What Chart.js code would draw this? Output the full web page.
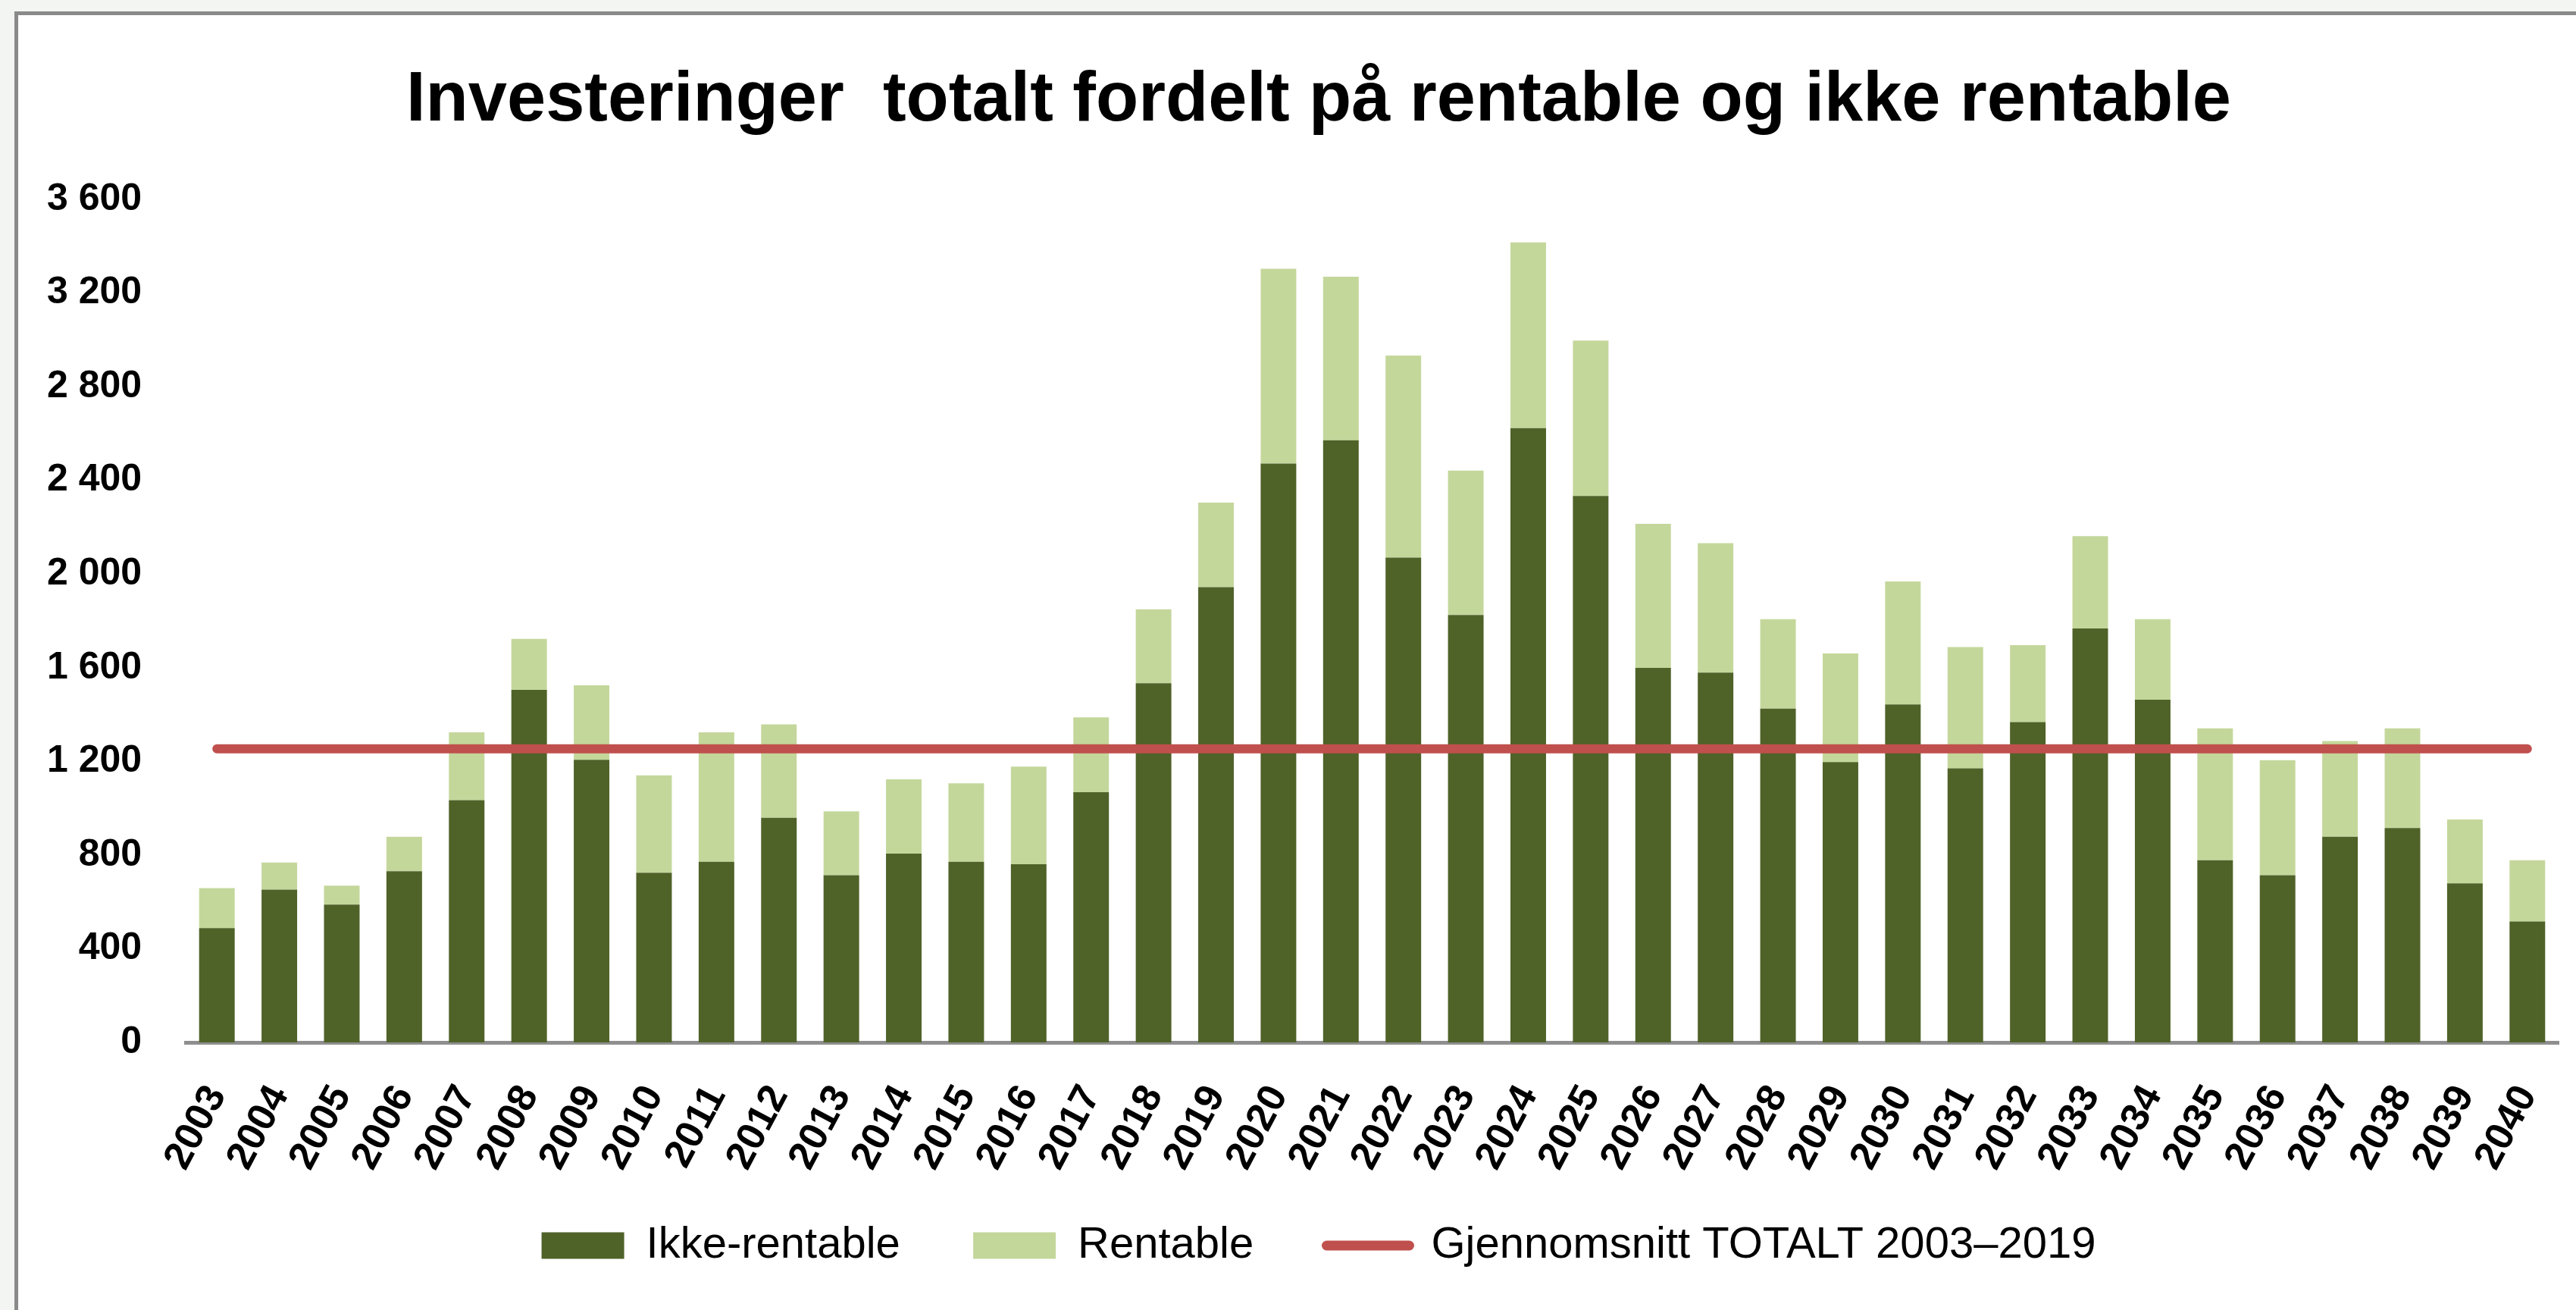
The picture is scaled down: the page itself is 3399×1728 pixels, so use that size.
<!DOCTYPE html>
<html lang="no">
<head>
<meta charset="utf-8">
<title>Investeringer totalt fordelt på rentable og ikke rentable</title>
<script src="https://cdn.jsdelivr.net/npm/chart.js@4.4.1/dist/chart.umd.min.js"></script>
<style>
  html, body { margin: 0; padding: 0; background: #f3f5f2; overflow: hidden; }
  #frame {
    position: absolute; left: 19px; top: 15px;
    width: 3375px; height: 1708px;
    border-left: 5px solid #8a8a8a; border-top: 5px solid #8a8a8a;
    background: #ffffff;
  }
  #wrap { position: relative; width: 3375px; height: 1708px; }
</style>
</head>
<body>
<div id="frame"><div id="wrap"><canvas id="chart"></canvas></div></div>
<script>
  // Years on the x axis
  const years = ['2003', '2004', '2005', '2006', '2007', '2008', '2009', '2010', '2011', '2012',
                 '2013', '2014', '2015', '2016', '2017', '2018', '2019', '2020', '2021', '2022',
                 '2023', '2024', '2025', '2026', '2027', '2028', '2029', '2030', '2031', '2032',
                 '2033', '2034', '2035', '2036', '2037', '2038', '2039', '2040'];

  // Ikke-rentable investeringer (bottom of the stack)
  const ikkeRentable = [488, 652, 588, 731, 1034, 1505, 1207, 724, 771, 959,
                        714, 806, 771, 761, 1068, 1534, 1944, 2472, 2571, 2070,
                        1825, 2623, 2333, 1599, 1579, 1425, 1197, 1443, 1170, 1368,
                        1768, 1463, 778, 714, 878, 915, 679, 516];

  // Rentable investeringer (stacked on top)
  const rentable = [171, 116, 81, 147, 290, 218, 318, 416, 553, 399,
                    273, 317, 335, 417, 320, 315, 361, 832, 699, 863,
                    617, 793, 664, 615, 553, 382, 464, 525, 518, 328,
                    394, 344, 563, 491, 409, 426, 273, 262];

  // Gjennomsnitt totalt 2003-2019, drawn across the whole period
  const snittTotalt = 1254;

  // Y axis ticks
  const yTicks = [0, 400, 800, 1200, 1600, 2000, 2400, 2800, 3200, 3600];

  const FONT = "'Liberation Sans', Arial, sans-serif";
  const NBSP2 = '\u00a0\u00a0';  // a bit more room between legend items

  function formatTick(v) {
    if (v < 1000) return String(v);
    const rest = String(v % 1000).padStart(3, '0');
    return Math.floor(v / 1000) + ' ' + rest;
  }

  const ctx = document.getElementById('chart').getContext('2d');

  new Chart(ctx, {
    type: 'bar',
    data: {
      labels: years,
      datasets: [
        {
          label: 'Ikke-rentable',
          data: ikkeRentable,
          backgroundColor: '#4f6228',
          borderWidth: 0,
          stack: 'invest',
          order: 1
        },
        {
          label: 'Rentable',
          data: rentable,
          backgroundColor: '#c4d79b',
          borderWidth: 0,
          stack: 'invest',
          order: 2
        },
        {
          type: 'line',
          label: 'Gjennomsnitt TOTALT 2003–2019',
          data: [{ x: years[0], y: snittTotalt }, { x: years[years.length - 1], y: snittTotalt }],
          borderColor: '#c0504d',
          backgroundColor: '#c0504d',
          borderWidth: 12,
          borderCapStyle: 'round',
          pointRadius: 0,
          stack: 'snitt',
          order: 0
        }
      ]
    },
    options: {
      responsive: true,
      maintainAspectRatio: false,
      animation: false,
      devicePixelRatio: 1,
      datasets: {
        bar: { barPercentage: 0.57, categoryPercentage: 1.0 }
      },
      layout: {
        padding: { left: 80, right: 23, top: 0, bottom: 46 }
      },
      scales: {
        x: {
          stacked: true,
          grid: { display: false, drawTicks: true, tickLength: 44 },
          border: { display: true, color: '#8f8f8f', width: 5 },
          ticks: {
            autoSkip: false,
            minRotation: 62,
            maxRotation: 62,
            padding: 3,
            color: '#000000',
            font: { family: FONT, size: 52, weight: 'bold' }
          },
          afterFit: (scale) => { scale.height = 175; }
        },
        y: {
          stacked: true,
          min: 0,
          max: 3600,
          grid: { display: false, drawTicks: false },
          border: { display: false },
          afterBuildTicks: (scale) => { scale.ticks = yTicks.map(v => ({ value: v })); },
          ticks: {
            // mirrored + far alignment so the labels are not clipped to the axis box
            mirror: true,
            crossAlign: 'far',
            padding: -183,
            color: '#000000',
            font: { family: FONT, size: 50, weight: 'bold' },
            callback: (v) => formatTick(v)
          },
          afterFit: (scale) => { scale.width = 141; }
        }
      },
      plugins: {
        title: {
          display: true,
          text: 'Investeringer  totalt fordelt på rentable og ikke rentable',
          color: '#000000',
          font: { family: FONT, size: 92, weight: 'bold', lineHeight: 1.2 },
          padding: { top: 58, bottom: 74.6 }
        },
        legend: {
          position: 'bottom',
          labels: {
            color: '#000000',
            font: { family: FONT, size: 58 },
            usePointStyle: true,
            pointStyleWidth: 109,
            boxHeight: 35,
            padding: 64,
            sort: (a, b) => a.datasetIndex - b.datasetIndex,
            generateLabels: (chart) => {
              const items = Chart.defaults.plugins.legend.labels.generateLabels(chart);
              items.forEach((item) => {
                const ds = chart.data.datasets[item.datasetIndex];
                if (ds.type === 'line') {
                  item.pointStyle = 'line';
                  item.strokeStyle = ds.borderColor;
                  item.lineWidth = 13;
                  item.lineCap = 'round';
                } else {
                  item.pointStyle = 'rect';
                  item.lineWidth = 0;
                  item.text = item.text + NBSP2;
                }
              });
              return items;
            }
          }
        },
        tooltip: { enabled: false }
      }
    }
  });
</script>
</body>
</html>
